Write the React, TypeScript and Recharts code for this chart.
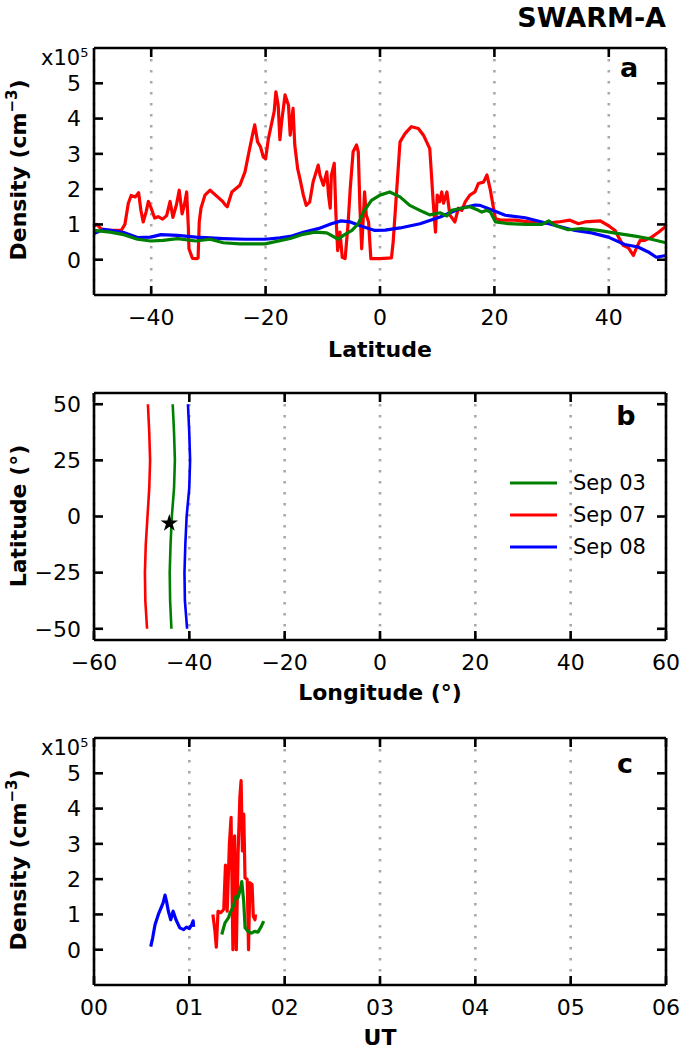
import React from 'react';
import {
  LineChart,
  Line,
  ScatterChart,
  Scatter,
  XAxis,
  YAxis,
  CartesianGrid,
  Legend,
  Symbols,
} from 'recharts';

const FONT = 'DejaVu Sans';
const GREEN = '#008000';
const RED = '#ff0000';
const BLUE = '#0000ff';

// panel a: density (x10^5 cm^-3) against latitude, [lat, density]
const sep07Lat: [number, number][] = [
  [-50, 0.95], [-49.5, 1.0], [-48.8, 0.88], [-48, 0.84], [-46.5, 0.83], [-45.2, 0.84], [-44.6, 1.0],
  [-44.0, 1.6], [-43.5, 1.82], [-42.8, 1.78], [-42.2, 1.9], [-41.8, 1.4], [-41.4, 1.07], [-40.9, 1.35],
  [-40.5, 1.65], [-40.0, 1.46], [-39.4, 1.18], [-38.8, 1.22], [-38.0, 1.15], [-37.3, 1.25], [-36.7, 1.65],
  [-36.2, 1.2], [-35.6, 1.55], [-35.1, 1.97], [-34.6, 1.3], [-34.2, 1.55], [-33.8, 1.92], [-33.5, 0.9],
  [-33.4, 0.31], [-32.8, 0.04], [-32.0, 0.03], [-31.8, 0.05], [-31.6, 1.07], [-31.3, 1.46], [-30.6, 1.83],
  [-29.7, 1.97], [-28.4, 1.78], [-27.5, 1.65], [-27.0, 1.54], [-26.7, 1.5], [-25.9, 1.92], [-24.5, 2.11],
  [-23.6, 2.49], [-22.9, 3.06], [-22.3, 3.53], [-21.9, 3.82], [-21.4, 3.34], [-20.9, 3.2], [-20.4, 2.91],
  [-20.0, 2.86], [-19.5, 3.44], [-19.0, 3.82], [-18.5, 4.2], [-18.2, 4.76], [-17.8, 4.38], [-17.5, 3.4],
  [-17.2, 3.9], [-16.6, 4.67], [-16.0, 4.38], [-15.7, 3.53], [-15.2, 4.29], [-14.9, 3.25], [-14.4, 2.58],
  [-14.0, 2.3], [-13.4, 1.83], [-12.9, 1.54], [-12.3, 1.63], [-11.7, 2.2], [-10.8, 2.68], [-10.5, 2.4],
  [-9.9, 2.11], [-9.3, 2.49], [-9.0, 1.83], [-8.7, 1.46], [-8.5, 2.4], [-8.0, 2.73], [-7.7, 1.26],
  [-7.4, 0.26], [-7.0, 0.78], [-6.6, 0.07], [-6.1, 0.03], [-5.6, 0.97], [-5.2, 2.02], [-4.7, 3.06],
  [-4.1, 3.25], [-3.8, 3.06], [-3.5, 1.46], [-3.2, 0.31], [-2.7, 1.92], [-2.4, 1.27], [-2.0, 1.07],
  [-1.6, 0.03], [0, 0.03], [2.0, 0.05], [2.3, 0.5], [2.9, 1.92], [3.5, 3.34], [4.4, 3.58], [5.5, 3.77],
  [6.7, 3.72], [7.6, 3.53], [8.7, 3.15], [9.0, 2.4], [9.3, 1.64], [9.7, 0.78], [10.0, 1.83], [10.4, 1.64],
  [10.8, 1.92], [11.1, 1.6], [11.7, 1.92], [12.2, 1.27], [13.1, 1.07], [13.7, 1.46], [14.3, 1.4],
  [14.9, 1.64], [15.7, 1.83], [16.6, 1.92], [17.2, 2.16], [18.1, 2.2], [18.7, 2.4], [19.3, 1.97],
  [19.8, 1.5], [20.2, 1.16], [21.3, 1.12], [23.6, 1.12], [26.0, 1.07], [28.3, 1.02], [31.2, 1.07],
  [33.2, 1.12], [34.7, 1.02], [35.8, 1.07], [38.5, 1.1], [39.9, 0.97], [41.1, 0.83], [41.7, 0.64],
  [42.5, 0.41], [43.4, 0.34], [44.3, 0.12], [44.9, 0.36], [45.5, 0.55], [46.3, 0.55], [47.5, 0.64],
  [48.7, 0.78], [50, 0.95],
];

const sep08Lat: [number, number][] = [
  [-50, 0.74], [-48.3, 0.86], [-46.5, 0.82], [-44.8, 0.77], [-42.4, 0.63], [-40.1, 0.64], [-38.3, 0.71],
  [-35.4, 0.69], [-32.2, 0.64], [-29.7, 0.62], [-27.4, 0.6], [-23.5, 0.58], [-20.1, 0.58], [-17.5, 0.62],
  [-15.7, 0.66], [-13.4, 0.78], [-10.8, 0.88], [-8.5, 1.02], [-6.8, 1.1], [-5.2, 1.07], [-3.2, 0.95],
  [-0.9, 0.83], [0.9, 0.84], [3.5, 0.9], [7.0, 1.02], [10.5, 1.21], [14.0, 1.45], [16.6, 1.55],
  [17.5, 1.54], [18.9, 1.45], [21.9, 1.26], [25.4, 1.19], [28.3, 1.07], [31.2, 0.95], [34.1, 0.83],
  [37.0, 0.76], [39.9, 0.64], [42.8, 0.43], [45.1, 0.36], [46.9, 0.22], [48.3, 0.07], [50, 0.12],
];

const sep03Lat: [number, number][] = [
  [-50, 0.83], [-47.2, 0.78], [-44.8, 0.71], [-42.4, 0.58], [-40.1, 0.53], [-37.9, 0.55], [-35.4, 0.6],
  [-32.2, 0.53], [-29.7, 0.58], [-27.4, 0.48], [-24.5, 0.45], [-20.1, 0.45], [-15.7, 0.6], [-13.7, 0.71],
  [-11.4, 0.78], [-9.3, 0.76], [-7.3, 0.58], [-6.4, 0.69], [-4.9, 0.83], [-3.8, 1.02], [-2.9, 1.35],
  [-1.5, 1.68], [0.0, 1.83], [1.7, 1.92], [3.5, 1.78], [5.2, 1.54], [7.6, 1.35], [8.7, 1.27],
  [10.5, 1.33], [11.7, 1.24], [12.5, 1.4], [14.0, 1.45], [15.7, 1.5], [17.2, 1.4], [17.8, 1.35],
  [18.7, 1.4], [19.3, 1.35], [20.2, 1.07], [22.5, 1.02], [25.4, 1.0], [28.3, 1.0], [29.5, 1.1],
  [30.6, 0.97], [32.9, 0.85], [35.2, 0.88], [38.2, 0.83], [41.7, 0.74], [44.6, 0.67], [46.9, 0.6],
  [50, 0.48],
];

// panel b: satellite tracks, [longitude, latitude]
const sep03Track: [number, number][] = [
  [-43.49, 50], [-43.21, 37.5], [-43.03, 25], [-43.21, 12.5], [-43.67, 0], [-43.94, -12.5],
  [-44.12, -25], [-44.03, -37.5], [-43.76, -50],
];
const sep07Track: [number, number][] = [
  [-48.69, 50], [-48.41, 37.5], [-48.23, 25], [-48.41, 12.5], [-48.78, 0], [-49.14, -12.5],
  [-49.32, -25], [-49.23, -37.5], [-48.87, -50],
];
const sep08Track: [number, number][] = [
  [-40.29, 50], [-40.02, 37.5], [-39.84, 25], [-40.02, 12.5], [-40.57, 0], [-40.84, -12.5],
  [-41.02, -25], [-40.93, -37.5], [-40.47, -50],
];
const starPos: [number, number][] = [[-44.2, -3]];

// panel c: density against UT (hours)
const sep08UT: [number, number][] = [
  [0.595, 0.09], [0.615, 0.33], [0.64, 0.71], [0.675, 1.0], [0.71, 1.23], [0.725, 1.33], [0.745, 1.55],
  [0.76, 1.38], [0.78, 1.09], [0.805, 0.85], [0.83, 1.09], [0.86, 0.85], [0.9, 0.62], [0.94, 0.57],
  [0.97, 0.64], [1.0, 0.6], [1.025, 0.71], [1.04, 0.82], [1.045, 0.65],
];
const sep07UT: [number, number][] = [
  [1.247, 1.0], [1.269, 0.52], [1.283, 0.07], [1.301, 1.09], [1.33, 1.05], [1.361, 1.14], [1.379, 2.4],
  [1.397, 1.09], [1.42, 2.99], [1.438, 3.75], [1.457, 0], [1.475, 3.23], [1.493, 0], [1.511, 2.7],
  [1.53, 4.32], [1.543, 4.79], [1.557, 2.8], [1.571, 3.84], [1.584, 2.04], [1.607, 1.99], [1.621, 0],
  [1.635, 1.9], [1.658, 1.85], [1.671, 0.95], [1.689, 0.85], [1.694, 1.0],
];
const sep03UT: [number, number][] = [
  [1.34, 0.43], [1.374, 0.76], [1.41, 0.9], [1.427, 1.04], [1.46, 1.23], [1.49, 1.52], [1.51, 1.47],
  [1.53, 1.66], [1.55, 1.93], [1.57, 1.38], [1.585, 0.62], [1.615, 0.52], [1.65, 0.47], [1.685, 0.52],
  [1.72, 0.5], [1.755, 0.66], [1.78, 0.81],
];

const legendNames = ['Sep 03', 'Sep 07', 'Sep 08'];
const densityTicks = [0, 1, 2, 3, 4, 5];
const latTicksA = [-40, -20, 0, 20, 40];
const lonTicks = [-60, -40, -20, 0, 20, 40, 60];
const latTicksB = [-50, -25, 0, 25, 50];
const utTicks = [0, 1, 2, 3, 4, 5, 6];

const toXY = (pts: [number, number][]) => pts.map(([x, y]) => ({ x, y }));
const toTrack = (pts: [number, number][]) => pts.map(([lon, lat]) => ({ lon, lat }));
const minus = (v: number) => String(v).replace('-', '\u2212');
const hour = (v: number) => '0' + v;

const frame = { stroke: '#000', strokeWidth: 2.6 };
const tickLine = { stroke: '#000', strokeWidth: 2.6 };
const tickText = { fill: '#000', fontSize: 22, fontFamily: FONT };
const noLabel = () => <g />;

const W = 685;
const H = 331;
const MARGIN = { top: 47, right: 18, bottom: 0, left: 34 };

type Series = { name: string; color: string; pts: [number, number][] };

function DensityPanel({ series, domain, ticks, fmt }: {
  series: Series[]; domain: [number, number]; ticks: number[]; fmt: (v: number) => string;
}) {
  return (
    <LineChart width={W} height={H} margin={MARGIN}>
      <CartesianGrid xAxisId="b" yAxisId="l" horizontal={false} stroke="#a9a9a9" strokeWidth={2.6} strokeDasharray="2.6 8.4" />
      <XAxis xAxisId="b" type="number" dataKey="x" domain={domain} ticks={ticks} interval={0} allowDataOverflow
        height={36} tickSize={-9} tickMargin={23} axisLine={frame} tickLine={tickLine} tick={tickText} tickFormatter={fmt} />
      <XAxis xAxisId="t" orientation="top" type="number" dataKey="x" domain={domain} ticks={ticks} interval={0} allowDataOverflow
        height={1} tickSize={-9} axisLine={frame} tickLine={tickLine} tick={noLabel} />
      <YAxis yAxisId="l" type="number" domain={[-1, 6]} ticks={densityTicks} interval={0} allowDataOverflow
        width={60} tickSize={-9} tickMargin={22} axisLine={frame} tickLine={tickLine} tick={tickText} />
      <YAxis yAxisId="r" orientation="right" type="number" domain={[-1, 6]} ticks={densityTicks} interval={0} allowDataOverflow
        width={1} tickSize={-9} axisLine={frame} tickLine={tickLine} tick={noLabel} />
      {series.map((s) => (
        <Line key={s.name} xAxisId="b" yAxisId="l" data={toXY(s.pts)} dataKey="y" type="linear" name={s.name}
          stroke={s.color} strokeWidth={3.2} strokeLinejoin="round" dot={false} isAnimationActive={false} />
      ))}
    </LineChart>
  );
}

const legendContent = (props: any) => (
  <div style={{ fontFamily: FONT, fontSize: 21, color: '#000' }}>
    {(props.payload || [])
      .filter((p: any) => legendNames.includes(p.value))
      .map((p: any) => (
        <div key={p.value} style={{ display: 'flex', alignItems: 'center', height: 32 }}>
          <svg width={47} height={6} style={{ marginRight: 16 }}>
            <line x1={0} y1={3} x2={47} y2={3} stroke={p.color} strokeWidth={3} />
          </svg>
          <span>{p.value}</span>
        </div>
      ))}
  </div>
);

function TrackPanel() {
  const tracks: Series[] = [
    { name: 'Sep 03', color: GREEN, pts: sep03Track },
    { name: 'Sep 07', color: RED, pts: sep07Track },
    { name: 'Sep 08', color: BLUE, pts: sep08Track },
  ];
  return (
    <ScatterChart width={W} height={H} margin={MARGIN}>
      <CartesianGrid xAxisId="b" yAxisId="l" horizontal={false} stroke="#a9a9a9" strokeWidth={2.6} strokeDasharray="2.6 8.4" />
      <XAxis xAxisId="b" type="number" dataKey="lon" domain={[-60, 60]} ticks={lonTicks} interval={0} allowDataOverflow
        height={36} tickSize={-9} tickMargin={23} axisLine={frame} tickLine={tickLine} tick={tickText} tickFormatter={minus} />
      <XAxis xAxisId="t" orientation="top" type="number" dataKey="lon" domain={[-60, 60]} ticks={lonTicks} interval={0} allowDataOverflow
        height={1} tickSize={-9} axisLine={frame} tickLine={tickLine} tick={noLabel} />
      <YAxis yAxisId="l" type="number" dataKey="lat" domain={[-55, 55]} ticks={latTicksB} interval={0} allowDataOverflow
        width={60} tickSize={-9} tickMargin={22} axisLine={frame} tickLine={tickLine} tick={tickText} tickFormatter={minus} />
      <YAxis yAxisId="r" orientation="right" type="number" dataKey="lat" domain={[-55, 55]} ticks={latTicksB} interval={0} allowDataOverflow
        width={1} tickSize={-9} axisLine={frame} tickLine={tickLine} tick={noLabel} />
      {tracks.map((t) => (
        <Scatter key={t.name} name={t.name} xAxisId="b" yAxisId="l" data={toTrack(t.pts)} fill={t.color}
          line={{ stroke: t.color, strokeWidth: 2.6 }} lineType="joint" shape={noLabel} isAnimationActive={false} />
      ))}
      <Scatter name="star" legendType="none" xAxisId="b" yAxisId="l" data={toTrack(starPos)} fill="#000" isAnimationActive={false}
        shape={(p: any) => <Symbols cx={p.cx} cy={p.cy} type="star" size={95} fill="#000" />} />
      <Legend layout="vertical" align="center" verticalAlign="middle" content={legendContent}
        wrapperStyle={{ left: 510, top: 122, width: 150 }} />
    </ScatterChart>
  );
}

const txt = { fontFamily: FONT, fill: '#000' };

function Density({ cy }: { cy: number }) {
  return (
    <text {...txt} x={26} y={cy} fontSize={22} fontWeight="bold" textAnchor="middle" transform={`rotate(-90 26 ${cy})`}>
      Density (cm<tspan fontSize={15} dy={-9}>{'\u22123'}</tspan><tspan dy={9}>)</tspan>
    </text>
  );
}

function Scale({ y }: { y: number }) {
  return (
    <text {...txt} x={41} y={y} fontSize={21}>
      x10<tspan fontSize={13} dy={-8}>5</tspan>
    </text>
  );
}

export default function App() {
  const panelA: Series[] = [
    { name: 'Sep 07', color: RED, pts: sep07Lat },
    { name: 'Sep 08', color: BLUE, pts: sep08Lat },
    { name: 'Sep 03', color: GREEN, pts: sep03Lat },
  ];
  const panelC: Series[] = [
    { name: 'Sep 08', color: BLUE, pts: sep08UT },
    { name: 'Sep 07', color: RED, pts: sep07UT },
    { name: 'Sep 03', color: GREEN, pts: sep03UT },
  ];
  return (
    <div style={{ position: 'absolute', left: 0, top: 0, width: W, height: 1052, background: '#fff', fontFamily: FONT }}>
      <div style={{ position: 'absolute', left: 0, top: 0 }}>
        <DensityPanel series={panelA} domain={[-50, 50]} ticks={latTicksA} fmt={minus} />
      </div>
      <div style={{ position: 'absolute', left: 0, top: 345 }}>
        <TrackPanel />
      </div>
      <div style={{ position: 'absolute', left: 0, top: 690 }}>
        <DensityPanel series={panelC} domain={[0, 6]} ticks={utTicks} fmt={hour} />
      </div>
      <svg width={W} height={1052} style={{ position: 'absolute', left: 0, top: 0, pointerEvents: 'none' }}>
        <text {...txt} x={666} y={27} fontSize={27} fontWeight="bold" textAnchor="end">SWARM-A</text>

        <Scale y={65} />
        <Density cy={170} />
        <text {...txt} x={629} y={77} fontSize={27} fontWeight="bold" textAnchor="middle">a</text>
        <text {...txt} x={380} y={357} fontSize={22} fontWeight="bold" textAnchor="middle">Latitude</text>

        <text {...txt} x={26} y={516} fontSize={22} fontWeight="bold" textAnchor="middle" transform="rotate(-90 26 516)">Latitude (°)</text>
        <text {...txt} x={626} y={425} fontSize={27} fontWeight="bold" textAnchor="middle">b</text>
        <text {...txt} x={380} y={700} fontSize={22} fontWeight="bold" textAnchor="middle">Longitude (°)</text>

        <Scale y={755} />
        <Density cy={860} />
        <text {...txt} x={625} y={773} fontSize={27} fontWeight="bold" textAnchor="middle">c</text>
        <text {...txt} x={380} y={1045} fontSize={22} fontWeight="bold" textAnchor="middle">UT</text>
      </svg>
    </div>
  );
}
